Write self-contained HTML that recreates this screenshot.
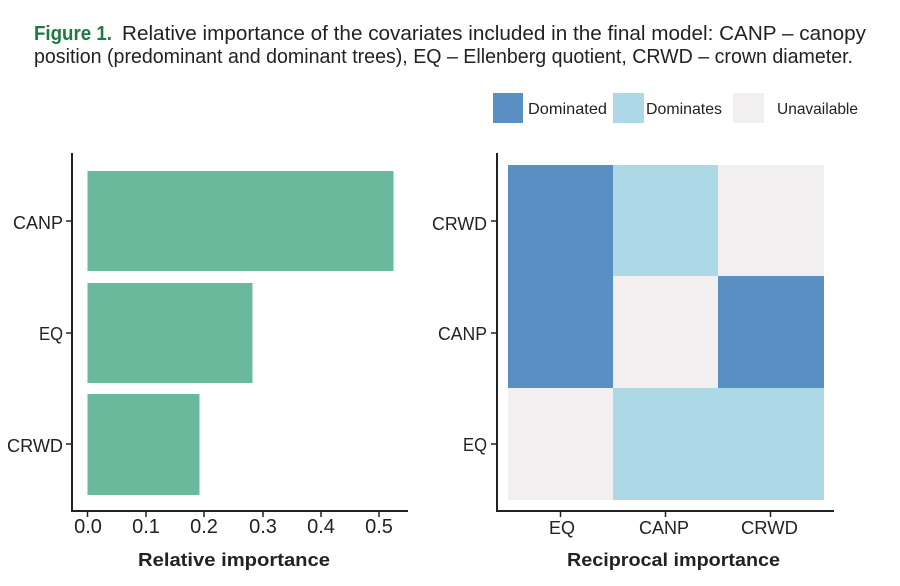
<!DOCTYPE html>
<html>
<head>
<meta charset="utf-8">
<style>
  html, body { margin: 0; padding: 0; background: #ffffff; }
  svg { display: block; }
  text { font-family: "Liberation Sans", "DejaVu Sans", sans-serif; fill: #222222; }
</style>
</head>
<body>
<svg width="900" height="586" viewBox="0 0 900 586" xmlns="http://www.w3.org/2000/svg">
  <rect x="0" y="0" width="900" height="586" fill="#ffffff"/>

  <!-- Caption -->
  <text x="34" y="40" font-size="20" font-weight="bold" style="fill:#1e7a3e" textLength="78" lengthAdjust="spacingAndGlyphs">Figure 1.</text>
  <text x="122" y="40" font-size="20" textLength="744" lengthAdjust="spacingAndGlyphs">Relative importance of the covariates included in the final model: CANP – canopy</text>
  <text x="34" y="63" font-size="20" textLength="819" lengthAdjust="spacingAndGlyphs">position (predominant and dominant trees), EQ – Ellenberg quotient, CRWD – crown diameter.</text>

  <!-- Legend -->
  <rect x="493" y="93" width="30" height="30" fill="#5a8fc4"/>
  <text x="528" y="114" font-size="16" textLength="79" lengthAdjust="spacingAndGlyphs">Dominated</text>
  <rect x="613" y="93" width="31" height="30" fill="#add8e6"/>
  <text x="646" y="114" font-size="16" textLength="76" lengthAdjust="spacingAndGlyphs">Dominates</text>
  <rect x="733" y="93" width="31" height="30" fill="#f1eff0"/>
  <text x="777" y="114" font-size="16" textLength="81" lengthAdjust="spacingAndGlyphs">Unavailable</text>

  <!-- Left panel: bars -->
  <rect x="87.5" y="171" width="306" height="100" fill="#6bb99d"/>
  <rect x="87.5" y="283" width="165" height="100" fill="#6bb99d"/>
  <rect x="87.5" y="394" width="112" height="101" fill="#6bb99d"/>

  <!-- Left axes -->
  <line x1="72" y1="153" x2="72" y2="512" stroke="#222" stroke-width="2"/>
  <line x1="71" y1="511" x2="408" y2="511" stroke="#222" stroke-width="2"/>
  <!-- y ticks -->
  <line x1="66" y1="221" x2="72" y2="221" stroke="#222" stroke-width="1.5"/>
  <line x1="66" y1="333" x2="72" y2="333" stroke="#222" stroke-width="1.5"/>
  <line x1="66" y1="444" x2="72" y2="444" stroke="#222" stroke-width="1.5"/>
  <text x="13" y="229" font-size="18" textLength="50" lengthAdjust="spacingAndGlyphs">CANP</text>
  <text x="39" y="340" font-size="18" textLength="24" lengthAdjust="spacingAndGlyphs">EQ</text>
  <text x="7" y="452" font-size="18" textLength="56" lengthAdjust="spacingAndGlyphs">CRWD</text>
  <!-- x ticks -->
  <g stroke="#222" stroke-width="1.5">
    <line x1="87.5" y1="511" x2="87.5" y2="517"/>
    <line x1="146" y1="511" x2="146" y2="517"/>
    <line x1="204" y1="511" x2="204" y2="517"/>
    <line x1="263" y1="511" x2="263" y2="517"/>
    <line x1="321" y1="511" x2="321" y2="517"/>
    <line x1="379" y1="511" x2="379" y2="517"/>
  </g>
  <g font-size="20" text-anchor="middle">
    <text x="88" y="533">0.0</text>
    <text x="146" y="533">0.1</text>
    <text x="204" y="533">0.2</text>
    <text x="263" y="533">0.3</text>
    <text x="321" y="533">0.4</text>
    <text x="379" y="533">0.5</text>
  </g>
  <text x="138" y="566" font-size="18" font-weight="bold" textLength="192" lengthAdjust="spacingAndGlyphs">Relative  importance</text>

  <!-- Right panel: tiles -->
  <rect x="508" y="165" width="105.5" height="111.5" fill="#5a8fc4"/>
  <rect x="613" y="165" width="105.5" height="111.5" fill="#add8e6"/>
  <rect x="718" y="165" width="106" height="111.5" fill="#f1eff0"/>
  <rect x="508" y="276" width="105.5" height="112.5" fill="#5a8fc4"/>
  <rect x="613" y="276" width="105.5" height="112.5" fill="#f1eff0"/>
  <rect x="718" y="276" width="106" height="112.5" fill="#5a8fc4"/>
  <rect x="508" y="388" width="105.5" height="112" fill="#f1eff0"/>
  <rect x="613" y="388" width="211" height="112" fill="#add8e6"/>

  <!-- Right axes -->
  <line x1="497" y1="153" x2="497" y2="512" stroke="#222" stroke-width="2"/>
  <line x1="496" y1="511" x2="834" y2="511" stroke="#222" stroke-width="2"/>
  <line x1="491" y1="221" x2="497" y2="221" stroke="#222" stroke-width="1.5"/>
  <line x1="491" y1="333" x2="497" y2="333" stroke="#222" stroke-width="1.5"/>
  <line x1="491" y1="444" x2="497" y2="444" stroke="#222" stroke-width="1.5"/>
  <text x="432" y="230" font-size="18" textLength="55" lengthAdjust="spacingAndGlyphs">CRWD</text>
  <text x="438" y="340" font-size="18" textLength="49" lengthAdjust="spacingAndGlyphs">CANP</text>
  <text x="463" y="451" font-size="18" textLength="24" lengthAdjust="spacingAndGlyphs">EQ</text>
  <g stroke="#222" stroke-width="1.5">
    <line x1="560.5" y1="511" x2="560.5" y2="517"/>
    <line x1="665.5" y1="511" x2="665.5" y2="517"/>
    <line x1="770.5" y1="511" x2="770.5" y2="517"/>
  </g>
  <text x="549" y="534" font-size="18" textLength="26" lengthAdjust="spacingAndGlyphs">EQ</text>
  <text x="639" y="534" font-size="18" textLength="50" lengthAdjust="spacingAndGlyphs">CANP</text>
  <text x="741" y="534" font-size="18" textLength="57" lengthAdjust="spacingAndGlyphs">CRWD</text>
  <text x="567" y="566" font-size="18" font-weight="bold" textLength="213" lengthAdjust="spacingAndGlyphs">Reciprocal  importance</text>
</svg>
</body>
</html>
